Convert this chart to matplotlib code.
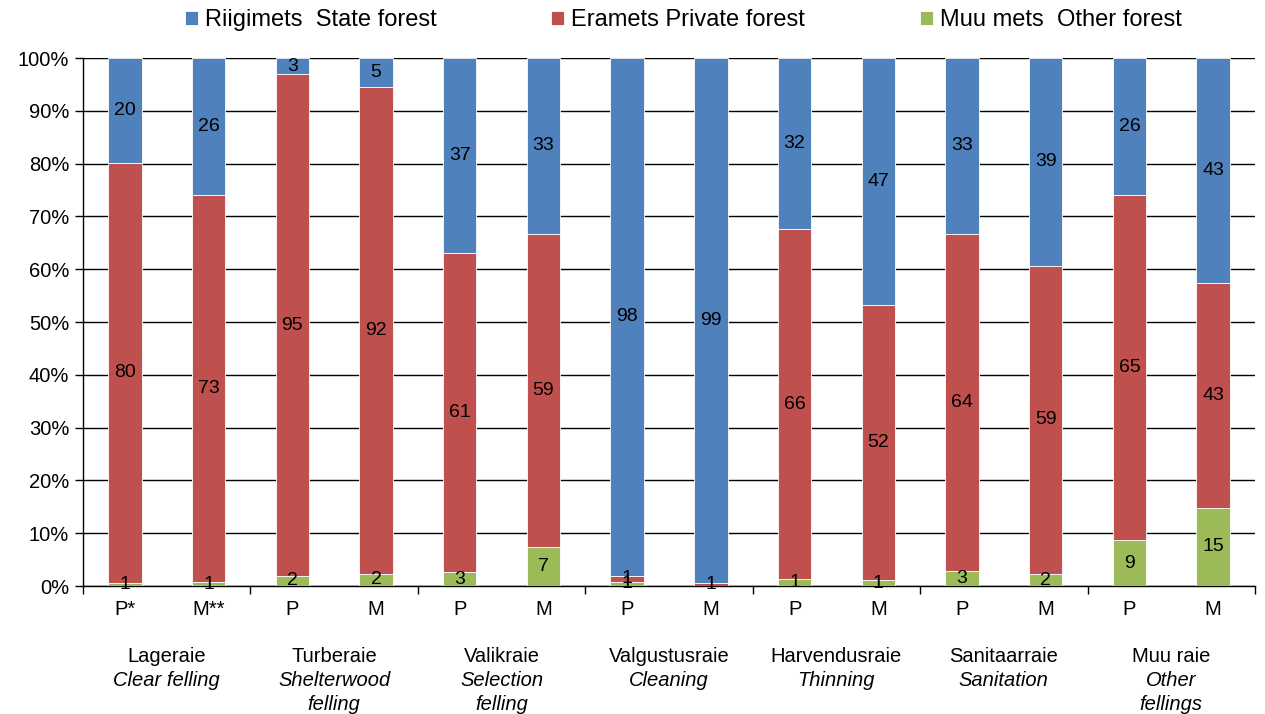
import numpy as np
import matplotlib
matplotlib.use("Agg")
from matplotlib import pyplot as plt
from matplotlib.transforms import blended_transform_factory

plt.rcParams["font.family"] = ["Liberation Sans", "DejaVu Sans"]

# data (percent shares)
bar_labels = ["P*", "M**", "P", "M", "P", "M", "P", "M", "P", "M", "P", "M", "P", "M"]
group_names = ["Lageraie", "Turberaie", "Valikraie", "Valgustusraie",
               "Harvendusraie", "Sanitaarraie", "Muu raie"]
group_names_en = ["Clear felling", "Shelterwood\nfelling", "Selection\nfelling",
                  "Cleaning", "Thinning", "Sanitation", "Other\nfellings"]
series_names = ["Riigimets  State forest", "Eramets Private forest", "Muu mets  Other forest"]

other_forest = [0.6, 0.7, 1.9, 2.3, 2.6, 7.4, 0.8, 0.0, 1.3, 1.1, 2.9, 2.2, 8.7, 14.8]
private_forest = [79.5, 73.3, 95.0, 92.3, 60.5, 59.3, 1.1, 0.6, 66.3, 52.2, 63.8, 58.5, 65.4, 42.6]
state_forest = [19.9, 26.0, 3.1, 5.4, 36.9, 33.3, 98.1, 99.4, 32.4, 46.7, 33.3, 39.3, 25.9, 42.6]

colors = {"state": "#4F81BD", "private": "#C0504D", "other": "#9BBB59"}


def fmt(v):
    return str(int(np.floor(v + 0.5)))


fig = plt.figure(figsize=(12.65, 7.14), dpi=100)
ax = fig.add_axes([83 / 1265, 1 - 586 / 714, (1255 - 83) / 1265, (586 - 58) / 714])

x = np.arange(len(bar_labels))
width = 0.4
stack = [
    (other_forest, colors["other"], series_names[2]),
    (private_forest, colors["private"], series_names[1]),
    (state_forest, colors["state"], series_names[0]),
]
bottom = np.zeros(len(x))
handles = {}
for vals, col, name in stack:
    vals = np.array(vals)
    bars = ax.bar(x, vals, width, bottom=bottom, color=col, edgecolor="white",
                  linewidth=0.6, zorder=3, label=name)
    handles[name] = bars
    for xi, b, v in zip(x, bottom, vals):
        if v > 0:
            ax.text(xi, b + v / 2, fmt(v), ha="center", va="center", fontsize=14, zorder=4)
    bottom += vals

ax.set_xlim(-0.5, len(x) - 0.5)
ax.set_ylim(0, 100)
ax.set_yticks(np.arange(0, 101, 10))
ax.set_yticklabels([f"{v}%" for v in range(0, 101, 10)], fontsize=14.5)
ax.yaxis.grid(True, color="black", linewidth=1, zorder=0)
ax.set_axisbelow(True)
ax.tick_params(axis="y", length=6, width=1, direction="out", pad=4)

ax.set_xticks(x)
ax.set_xticklabels(bar_labels, fontsize=14.5)
ax.tick_params(axis="x", which="major", length=0, pad=10)
ax.set_xticks(np.arange(-0.5, len(x), 2), minor=True)
ax.tick_params(axis="x", which="minor", length=6, width=1, direction="out")

for s in ["top", "right"]:
    ax.spines[s].set_visible(False)
for s in ["left", "bottom"]:
    ax.spines[s].set_linewidth(1)
    ax.spines[s].set_color("black")

trans = blended_transform_factory(ax.transData, fig.transFigure)
for i, (name, name_en) in enumerate(zip(group_names, group_names_en)):
    xc = 2 * i + 0.5
    ax.text(xc, 1 - 657 / 714, name, transform=trans, ha="center", va="center", fontsize=14.5)
    ax.text(xc, 1 - 671 / 714, name_en, transform=trans, ha="center", va="top",
            fontsize=14.5, style="italic", linespacing=1.3)

order = series_names
leg = fig.legend([handles[n] for n in order], order, loc="center", ncol=3,
                 bbox_to_anchor=(0.54, 1 - 20 / 714), frameon=False, fontsize=17,
                 handlelength=0.55, handleheight=0.55, handletextpad=0.3, columnspacing=4.85)

fig.savefig("out.png", dpi=100)
